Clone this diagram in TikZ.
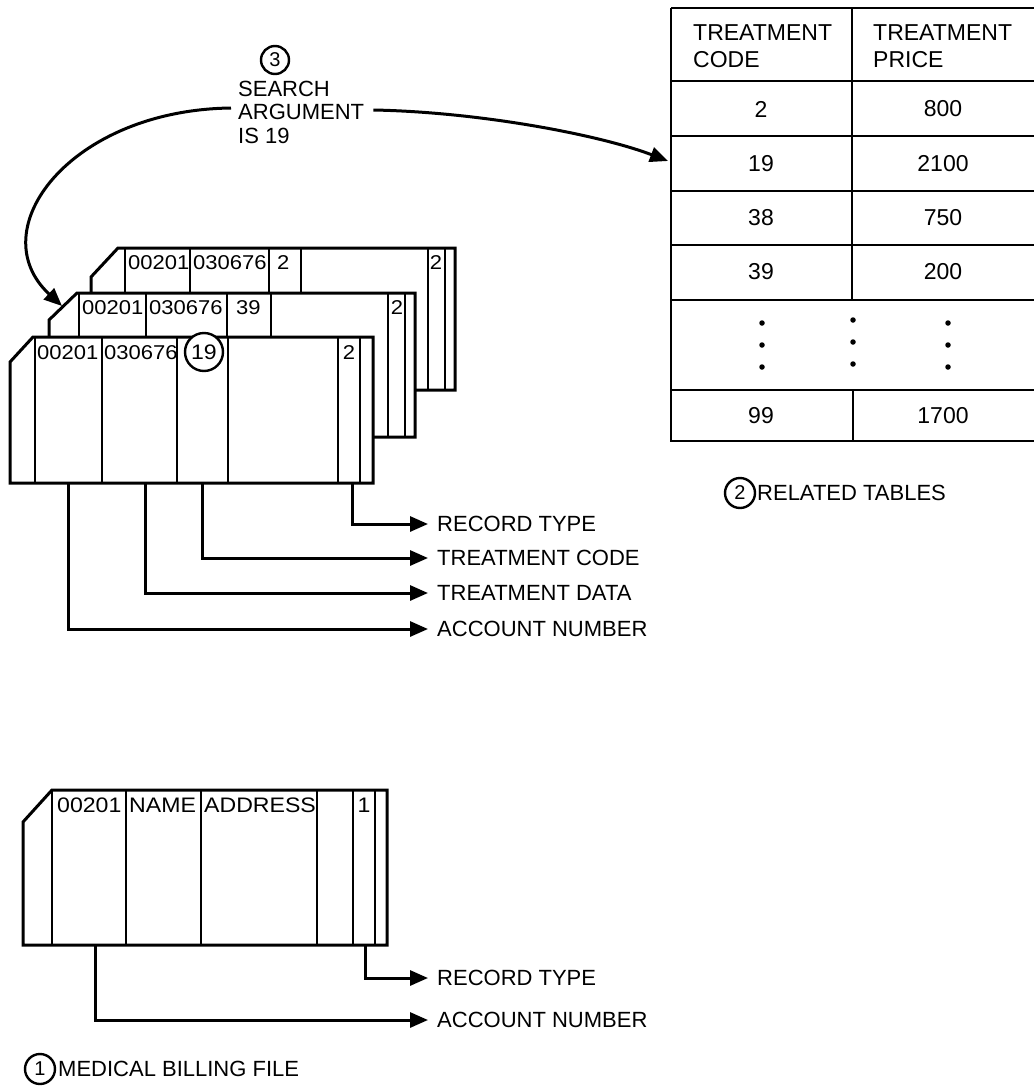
\documentclass[tikz,border=0pt]{standalone}
\usepackage{fontspec}
\setmainfont{Liberation Sans}
\newfontfamily\cardfont[FakeStretch=1.1]{Liberation Sans}
\usetikzlibrary{arrows.meta}
\begin{document}
\begin{tikzpicture}[x=1pt,y=-1pt,
  lbl/.style={font=\fontsize{22}{24}\selectfont, anchor=west, inner sep=0pt},
  ctxt/.style={font=\cardfont\fontsize{20}{22}\selectfont, anchor=west, inner sep=0pt},
  ctr/.style={font=\cardfont\fontsize{20}{22}\selectfont, inner sep=0pt},
  ttxt/.style={font=\fontsize{23}{25}\selectfont, inner sep=0pt},
  numcirc/.style={circle, draw, line width=2.4pt, minimum size=30pt, inner sep=0pt, font=\fontsize{20}{22}\selectfont},
  card/.style={draw, fill=white, line width=3pt, line join=miter},
  fld/.style={line width=2.5pt},
  conn/.style={line width=3pt, -{Triangle[length=18pt,width=15pt]}},
  tline/.style={line width=2.8pt},
  dotm/.style={circle, fill, inner sep=0pt, minimum size=5.5pt}
]
\useasboundingbox (0,0) rectangle (1034,1087);

% ---------- search argument ----------
\node[numcirc, minimum size=28pt] (c3) at (275,60) {3};
\node[lbl] (s1) at (238,89) {SEARCH};
\node[lbl] (s2) at (238,112) {ARGUMENT};
\node[lbl] (s3) at (238,136) {IS 19};

% ---------- table ----------
\draw[tline] (671,8) -- (1034,8);
\draw[tline] (671,8) -- (671,441) -- (1034,441);
\foreach \yy in {81,136,191,245,300,390} \draw[tline] (671,\yy) -- (1034,\yy);
\draw[tline] (852,8) -- (852,300);
\draw[tline] (853,390) -- (853,441);
\node[ttxt, anchor=west] (h1a) at (693,33) {TREATMENT};
\node[ttxt, anchor=west] (h1b) at (693,60) {CODE};
\node[ttxt, anchor=west] (h2a) at (873,33) {TREATMENT};
\node[ttxt, anchor=west] (h2b) at (873,60) {PRICE};
\node[ttxt] (r1a) at (761,109) {2};
\node[ttxt] (r1b) at (943,109) {800};
\node[ttxt] (r2a) at (761,164) {19};
\node[ttxt] (r2b) at (943,164) {2100};
\node[ttxt] (r3a) at (761,218) {38};
\node[ttxt] (r3b) at (943,218) {750};
\node[ttxt] (r4a) at (761,272) {39};
\node[ttxt] (r4b) at (943,272) {200};
\node[ttxt] (r6a) at (761,416) {99};
\node[ttxt] (r6b) at (943,416) {1700};
\foreach \xx/\ya in {762/323, 853/320, 948/323}{
  \node[dotm] at (\xx,\ya) {};
  \node[dotm] at (\xx,\ya+22) {};
  \node[dotm] at (\xx,\ya+44) {};
}
\coordinate (t19) at (668,161);
\node[numcirc] (c2) at (740,493) {2};
\node[lbl] (rt) at (757,493) {RELATED TABLES};

% ---------- back card ----------
\draw[card] (91,277) -- (118,248) -- (455,248) -- (455,390) -- (91,390) -- cycle;
\foreach \xx in {125,190,269,301,428,445} \draw[fld] (\xx,248) -- (\xx,390);
\node[ctxt] (b1) at (128,263) {00201};
\node[ctxt] (b2) at (193,263) {030676};
\node[ctxt] (b3) at (277,263) {2};
\node[ctr] (b4) at (436,263) {2};

% ---------- middle card ----------
\draw[card] (49,320) -- (77,293) -- (415,293) -- (415,437) -- (49,437) -- cycle;
\foreach \xx in {79,146,227,271,388,405} \draw[fld] (\xx,293) -- (\xx,437);
\node[ctxt] (m1) at (82,308) {00201};
\node[ctxt] (m2) at (149,308) {030676};
\node[ctxt] (m3) at (236,308) {39};
\node[ctr] (m4) at (397,308) {2};
\coordinate (mtip) at (62,306);

% ---------- front card ----------
\draw[card] (10,362) -- (33,337) -- (373,337) -- (373,483) -- (10,483) -- cycle;
\foreach \xx in {35,102,177,228,338,360} \draw[fld] (\xx,337) -- (\xx,483);
\node[ctxt] (f1) at (37,353) {00201};
\node[ctxt] (f2) at (104,353) {030676};
\node[numcirc, minimum size=38pt, fill=white, font=\cardfont\fontsize{21}{23}\selectfont] (f3) at (204,352) {19};
\node[ctr] (f4) at (349,353) {2};

% field anchors
\coordinate (fa) at (68,483);
\coordinate (fd) at (145,483);
\coordinate (fc) at (202,483);
\coordinate (fr) at (352,483);

\node[lbl] (lr) at (437,524) {RECORD TYPE};
\node[lbl] (lc) at (437,558) {TREATMENT CODE};
\node[lbl] (ld) at (437,593) {TREATMENT DATA};
\node[lbl] (la) at (437,629) {ACCOUNT NUMBER};

\draw[conn] (fr) |- ([xshift=-9pt]lr.west);
\draw[conn] (fc) |- ([xshift=-9pt]lc.west);
\draw[conn] (fd) |- ([xshift=-9pt]ld.west);
\draw[conn] (fa) |- ([xshift=-9pt]la.west);

% ---------- search arrows ----------
\draw[conn] ([xshift=-7pt,yshift=4pt]s2.west) .. controls (70,110) and (-20,230) .. (mtip);
\draw[conn] ([xshift=9pt,yshift=2pt]s2.east) .. controls (480,112) and (600,135) .. (t19);

% ---------- medical billing file ----------
\draw[card] (23,822) -- (52,790) -- (387,790) -- (387,945) -- (23,945) -- cycle;
\foreach \xx in {52,126,201,317,353,375} \draw[fld] (\xx,790) -- (\xx,945);
\node[ctxt, font=\cardfont\fontsize{21}{23}\selectfont] (n1) at (57,805) {00201};
\node[ctxt, font=\cardfont\fontsize{21}{23}\selectfont] (n2) at (129,805) {NAME};
\node[ctxt, font=\cardfont\fontsize{21}{23}\selectfont] (n3) at (204,805) {ADDRESS};
\node[ctr, font=\cardfont\fontsize{21}{23}\selectfont] (n4) at (364,805) {1};
\coordinate (ga) at (95,945);
\coordinate (gr) at (365,945);
\node[lbl] (lr2) at (437,978) {RECORD TYPE};
\node[lbl] (la2) at (437,1020) {ACCOUNT NUMBER};
\draw[conn] (gr) |- ([xshift=-9pt]lr2.west);
\draw[conn] (ga) |- ([xshift=-9pt]la2.west);

\node[numcirc] (c1) at (40,1069) {1};
\node[lbl] (mb) at (58,1069) {MEDICAL BILLING FILE};
\end{tikzpicture}
\end{document}
